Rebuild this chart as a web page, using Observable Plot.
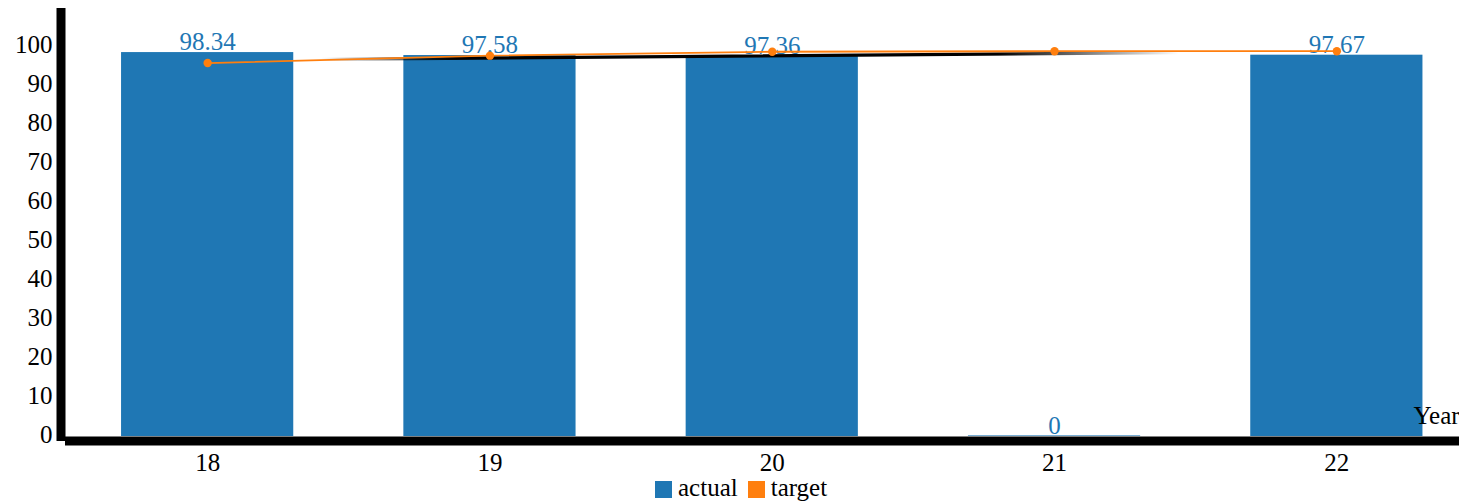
<!DOCTYPE html>
<html><head><meta charset="utf-8">
<script src="https://cdn.jsdelivr.net/npm/d3@7"></script>
<script src="https://cdn.jsdelivr.net/npm/@observablehq/plot@0.6"></script>
<style>
body{margin:0;background:#fff;font-family:"Liberation Serif","Times New Roman",serif;}
#chart{position:relative;width:1459px;height:501px;overflow:hidden;}
#legend{position:absolute;left:655px;top:475px;display:flex;align-items:center;font-size:25px;line-height:25px;white-space:nowrap;color:#000;}
.sw{display:inline-block;width:17px;height:17px;margin-right:6px;position:relative;top:2px;}
.item{display:flex;align-items:center;margin-right:10px;}
</style></head><body><div id="chart"><div id="legend"></div></div>
<script>
// ---- data ----
const years = ["18", "19", "20", "21", "22"];
const actual = [98.34, 97.58, 97.36, 0, 97.67];
const target = [95.8, 97.7, 98.7, 98.85, 98.85];
const trendYears = ["18", "22"];
const trend = [96.55, 98.8];
const yTicks = [0, 10, 20, 30, 40, 50, 60, 70, 80, 90, 100];
const seriesNames = ["actual", "target"];
const seriesColors = ["#1f77b4", "#ff7f0e"];

const barData = years.map((y, i) => ({year: y, value: actual[i]}));
const targetData = years.map((y, i) => ({year: y, value: target[i]}));
const trendData = trendYears.map((y, i) => ({year: y, value: trend[i]}));

const defs = () => {
  const d = d3.create("svg:defs");
  const lg = d.append("linearGradient").attr("id", "trendGrad")
    .attr("x1", "0").attr("x2", "1").attr("y1", "0").attr("y2", "0");
  [[0, 0], [0.1, 0], [0.22, 1], [0.7, 1], [0.86, 0], [1, 0]].forEach(([o, a]) =>
    lg.append("stop").attr("offset", o).attr("stop-color", "#000").attr("stop-opacity", a));
  return d.node();
};

const chart = Plot.plot({
  width: 1459,
  height: 478,
  marginTop: 12,
  marginBottom: 42,
  marginLeft: 60.5,
  marginRight: 0,
  style: {fontFamily: '"Liberation Serif","Times New Roman",serif', fontSize: "25px", background: "#fff", color: "#000", overflow: "visible"},
  x: {type: "band", domain: years, range: [-20.1, 1563.6], paddingInner: 0.39, paddingOuter: 0.5, align: 0.5, round: false},
  y: {domain: [0, 100], range: [436, 46.2]},
  marks: [
    defs,
    Plot.barY(barData, {x: "year", y: "value", fill: seriesColors[0], insetTop: -0.6}),
    Plot.text(barData, {x: "year", y: "value", text: d => String(d.value), dy: -3, lineAnchor: "bottom", fill: seriesColors[0], fontSize: 25}),
    Plot.line(trendData, {x: "year", y: "value", stroke: "url(#trendGrad)", strokeWidth: 3.2}),
    Plot.line(targetData, {x: "year", y: "value", stroke: seriesColors[1], strokeWidth: 1.8}),
    Plot.dot(targetData, {x: "year", y: "value", fill: seriesColors[1], r: 4.2}),
    Plot.frame({anchor: "left", stroke: "#000", strokeWidth: 9}),
    Plot.ruleY([0], {stroke: "#000", strokeWidth: 9, dy: 4.5, insetLeft: 4.5}),
    Plot.axisY({ticks: yTicks, tickSize: 0, tickPadding: 8.5, fontSize: 25, label: null, dy: -2}),
    Plot.axisX({tickSize: 0, tickPadding: 16.5, fontSize: 25, label: null}),
    Plot.text(["Year"], {frameAnchor: "bottom-right", textAnchor: "start", lineAnchor: "bottom", dx: -46, dy: -13, fontSize: 25, fill: "#000"})
  ]
});
document.getElementById("chart").prepend(chart);

const legend = document.getElementById("legend");
seriesNames.forEach((n, i) => {
  const it = document.createElement("span");
  it.className = "item";
  const sw = document.createElement("span");
  sw.className = "sw";
  sw.style.background = seriesColors[i];
  it.appendChild(sw);
  it.appendChild(document.createTextNode(n));
  legend.appendChild(it);
});
</script>
</body></html>
